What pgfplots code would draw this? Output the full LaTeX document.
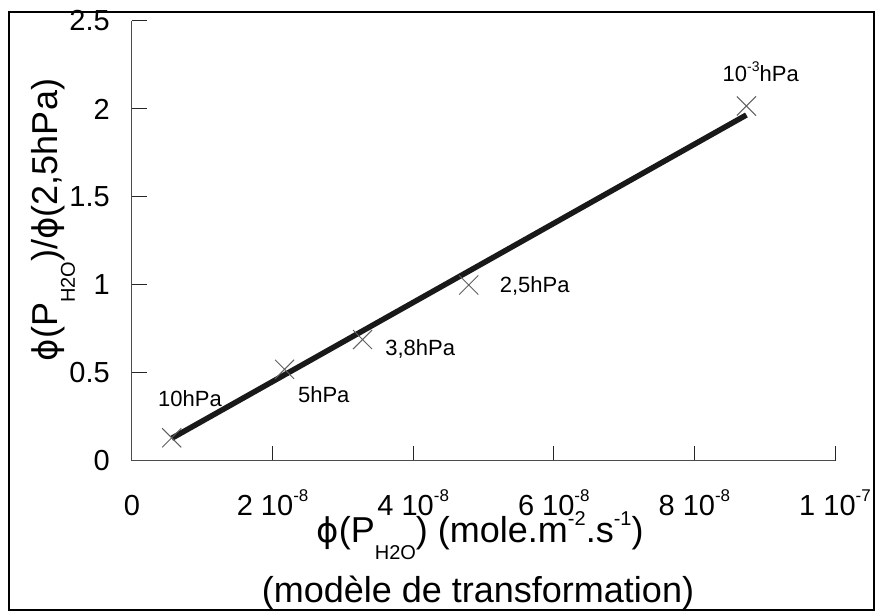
\documentclass[border=0pt]{standalone}
\usepackage{fontspec}
\setmainfont{Liberation Sans}
\newfontfamily\dejavu{DejaVu Sans}
\usepackage{pgfplots}
\pgfplotsset{compat=1.18}
\newcommand{\T}[1]{\mbox{\fontsize{29}{33}\selectfont #1}}
\newcommand{\tl}[2]{\mbox{\fontsize{29}{33}\selectfont #1 10\raisebox{14pt}{\fontsize{17}{19}\selectfont -#2}}}
\newcommand{\mysub}[1]{\raisebox{-17pt}{\fontsize{20}{22}\selectfont #1}}
\newcommand{\mysup}[1]{\raisebox{17pt}{\fontsize{20}{22}\selectfont #1}}
\newcommand{\ph}{{\dejavu\fontsize{34}{38}\selectfont ϕ}}
\definecolor{markgray}{HTML}{606060}
\begin{document}
\begin{tikzpicture}
\begin{axis}[
  scale only axis, width=703pt, height=440pt,
  xmin=0, xmax=1e-7, ymin=0, ymax=2.5,
  axis lines=left, axis line style={-, black!70, line width=1pt},
  tick align=inside, major tick length=15pt,
  tick style={black!85, line width=1pt},
  xtick={0,2e-8,4e-8,6e-8,8e-8,1e-7},
  xticklabels={\T{0},\tl{2}{8},\tl{4}{8},\tl{6}{8},\tl{8}{8},\tl{1}{7}},
  ytick={0,0.5,1,1.5,2,2.5},
  yticklabels={\T{0},\T{0.5},\T{1},\T{1.5},\T{2},\T{2.5}},
  scaled x ticks=false, scaled y ticks=false,
  xticklabel style={anchor=base, inner sep=0pt, yshift=-55pt},
  yticklabel style={anchor=east, inner sep=0pt, xshift=-22pt},
  clip=false,
]
\addplot[only marks, mark=x, mark size=13.5pt, markgray, mark options={line width=1pt}] coordinates {
  (0.565e-8,0.132) (2.17e-8,0.521) (3.28e-8,0.69) (4.79e-8,1.0) (8.74e-8,2.017)
};
\addplot[black!90, line width=5.5pt] coordinates {(0.565e-8,0.129) (8.74e-8,1.966)};
\begin{scope}[every node/.style={font=\fontsize{22}{26}\selectfont, anchor=base west, inner sep=0pt}]
\node at (axis cs:0.37e-8,0.307) {10hPa};
\node at (axis cs:2.36e-8,0.33) {5hPa};
\node at (axis cs:3.60e-8,0.602) {3,8hPa};
\node at (axis cs:5.23e-8,0.955) {2,5hPa};
\node at (axis cs:8.40e-8,2.159) {10\raisebox{10pt}{\fontsize{14}{16}\selectfont -3}hPa};
\end{scope}
\end{axis}
\begin{scope}[every node/.style={font=\fontsize{36}{40}\selectfont, inner sep=0pt}]
\node[rotate=90, anchor=base] at (-74pt,241pt) {\ph(P\mysub{H2O})/\ph(2,5hPa)};
\node[anchor=base] at (348pt,-82pt) {\ph(P\mysub{H2O}) (mole.m\mysup{-2}.s\mysup{-1})};
\node[anchor=base] at (346pt,-141pt) {(modèle de transformation)};
\end{scope}
\draw[line width=2pt] (-123pt,-149pt) rectangle (742pt,449pt);
\pgfresetboundingbox
\useasboundingbox (-132pt,-152pt) rectangle (744pt,461pt);
\end{tikzpicture}
\end{document}
